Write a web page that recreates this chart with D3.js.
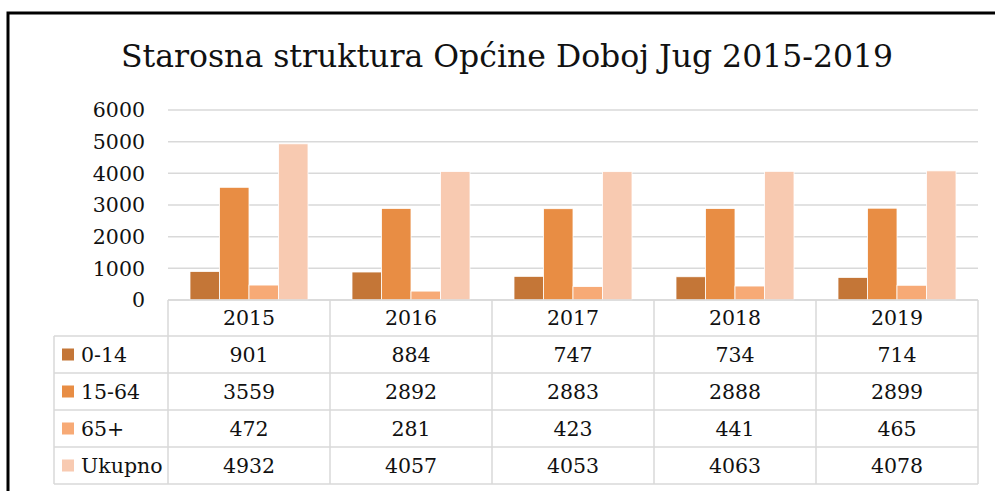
<!DOCTYPE html>
<meta charset="utf-8">
<style>
body { margin: 0; background: white; }
svg { display: block; }
.grid line { stroke: #d9d9d9; stroke-width: 1.5px; }
.tbl line { stroke: #d9d9d9; stroke-width: 1.5px; }
text { font-family: "DejaVu Serif", serif; fill: #111; }
</style>
<svg width="995" height="491"></svg>
<script src="https://cdn.jsdelivr.net/npm/d3@7"></script>
<script>

// chart data
var years = ["2015", "2016", "2017", "2018", "2019"];
var seriesNames = ["0-14", "15-64", "65+", "Ukupno"];
var colors = ["#c47637", "#e88d44", "#f7aa76", "#f8cab1"];
var age0_14 = [901, 884, 747, 734, 714];
var age15_64 = [3559, 2892, 2883, 2888, 2899];
var age65 = [472, 281, 423, 441, 465];
var total = [4932, 4057, 4053, 4063, 4078];
var yTicks = [0, 1000, 2000, 3000, 4000, 5000, 6000];

var values = [age0_14, age15_64, age65, total];

var svg = d3.select("svg");

// frame (only left and top edges show in the picture)
svg.append("path")
    .attr("d", "M8,491V13H995")
    .attr("fill", "none")
    .attr("stroke", "#000")
    .attr("stroke-width", 3);

svg.append("text")
    .attr("x", 507)
    .attr("y", 67)
    .attr("text-anchor", "middle")
    .style("font-size", "31.5px")
    .text("Starosna struktura Općine Doboj Jug 2015-2019");

var plotLeft = 168, plotRight = 978, plotTop = 110, base = 300;
var legendLeft = 54, headH = 36, rowH = 37;
var fs = "20.5px";

var y = d3.scaleLinear().domain([0, 6000]).range([base, plotTop]);
var x = d3.scaleBand().domain(years).range([plotLeft, plotRight]);
var xs = d3.scaleBand().domain(seriesNames).range([22, x.bandwidth() - 22]);

// gridlines
svg.append("g").attr("class", "grid")
  .selectAll("line")
  .data(yTicks)
  .enter().append("line")
    .attr("x1", plotLeft).attr("x2", plotRight)
    .attr("y1", function(d) { return y(d); })
    .attr("y2", function(d) { return y(d); });

// y labels
svg.append("g")
  .selectAll("text")
  .data(yTicks)
  .enter().append("text")
    .attr("x", 145)
    .attr("y", function(d) { return y(d); })
    .attr("dy", "0.36em")
    .attr("text-anchor", "end")
    .style("font-size", fs)
    .text(function(d) { return d; });

// bars
var groups = svg.append("g")
  .selectAll("g")
  .data(years)
  .enter().append("g")
    .attr("transform", function(d) { return "translate(" + x(d) + ",0)"; });

groups.selectAll("rect")
  .data(function(d, i) {
    return seriesNames.map(function(s, j) { return {s: s, v: values[j][i], c: colors[j]}; });
  })
  .enter().append("rect")
    .attr("x", function(d) { return xs(d.s); })
    .attr("width", xs.bandwidth())
    .attr("y", function(d) { return y(d.v); })
    .attr("height", function(d) { return base - y(d.v); })
    .attr("fill", function(d) { return d.c; })
    .attr("stroke", "#fff")
    .attr("stroke-width", 0.8);

// data table
var tbl = svg.append("g").attr("class", "tbl");
var tableBottom = base + headH + rowH * seriesNames.length;

// horizontal lines
tbl.append("line").attr("x1", plotLeft).attr("x2", plotRight).attr("y1", base).attr("y2", base);
d3.range(seriesNames.length + 1).forEach(function(i) {
  var yy = base + headH + rowH * i;
  tbl.append("line").attr("x1", legendLeft).attr("x2", plotRight).attr("y1", yy).attr("y2", yy);
});

// vertical lines
tbl.append("line").attr("x1", legendLeft).attr("x2", legendLeft)
    .attr("y1", base + headH).attr("y2", tableBottom);
years.concat(["end"]).forEach(function(yr) {
  var xx = yr === "end" ? plotRight : x(yr);
  tbl.append("line").attr("x1", xx).attr("x2", xx).attr("y1", base).attr("y2", tableBottom);
});

// header row
svg.append("g")
  .selectAll("text")
  .data(years)
  .enter().append("text")
    .attr("x", function(d) { return x(d) + x.bandwidth() / 2; })
    .attr("y", base + headH / 2)
    .attr("dy", "0.36em")
    .attr("text-anchor", "middle")
    .style("font-size", fs)
    .text(function(d) { return d; });

// rows
seriesNames.forEach(function(s, j) {
  var cy = base + headH + rowH * j + rowH / 2;
  svg.append("rect")
      .attr("x", 62).attr("y", cy - 6)
      .attr("width", 12).attr("height", 12)
      .attr("fill", colors[j]);
  svg.append("text")
      .attr("x", 81).attr("y", cy)
      .attr("dy", "0.36em")
      .style("font-size", fs)
      .text(s);
  svg.append("g")
    .selectAll("text")
    .data(values[j])
    .enter().append("text")
      .attr("x", function(d, i) { return x(years[i]) + x.bandwidth() / 2; })
      .attr("y", cy)
      .attr("dy", "0.36em")
      .attr("text-anchor", "middle")
      .style("font-size", fs)
      .text(function(d) { return d; });
});

</script>
